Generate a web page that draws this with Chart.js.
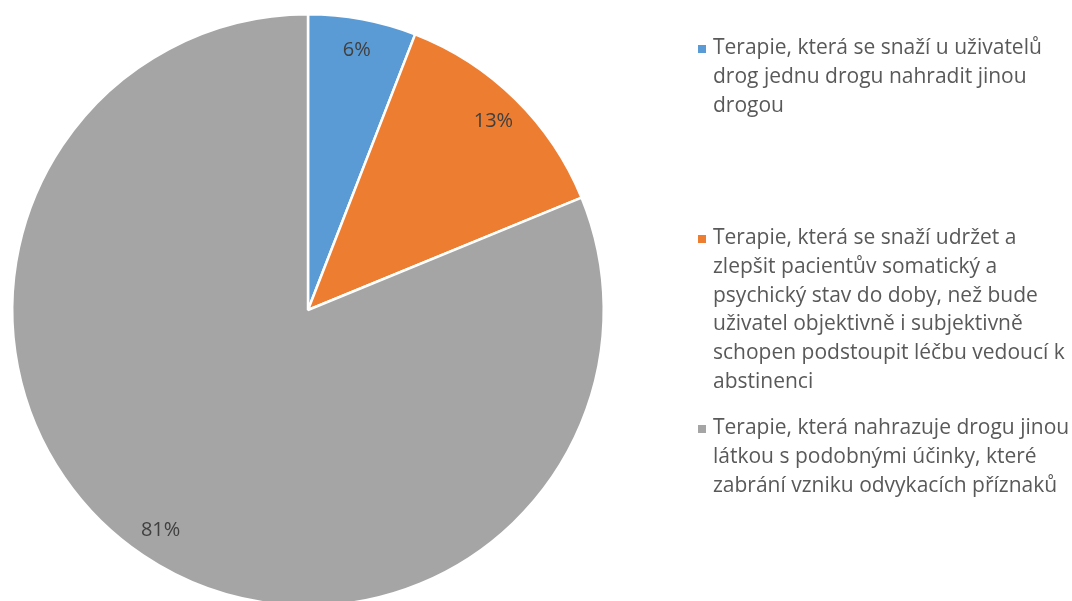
<!DOCTYPE html>
<html><head><meta charset="utf-8">
<script src="https://cdn.jsdelivr.net/npm/chart.js@4/dist/chart.umd.min.js"></script>
<style>
html,body{margin:0;padding:0;background:#fff;overflow:hidden;width:1072px;height:601px;}
#wrap{position:relative;width:1072px;height:618px;}
</style></head>
<body><div id="wrap"><canvas id="c" width="1072" height="618"></canvas></div>
<script>
const categories = [
  ["Terapie, která se snaží u uživatelů", "drog jednu drogu nahradit jinou", "drogou"],
  ["Terapie, která se snaží udržet a", "zlepšit pacientův somatický a", "psychický stav do doby, než bude", "uživatel objektivně i subjektivně", "schopen podstoupit léčbu vedoucí k", "abstinenci"],
  ["Terapie, která nahrazuje drogu jinou", "látkou s podobnými účinky, které", "zabrání vzniku odvykacích příznaků"]
];
const values = [5.9, 12.9, 81.2];
const colors = ["#5B9BD5", "#ED7D31", "#A5A5A5"];

const FONT = "'Open Sans', sans-serif";

const labelsPlugin = {
  id: 'pieLabels',
  afterDatasetsDraw(chart) {
    const ctx = chart.ctx;
    const meta = chart.getDatasetMeta(0);
    const total = values.reduce((a,b)=>a+b,0);
    ctx.save();
    ctx.font = "20px " + FONT;
    ctx.fillStyle = "#404040";
    ctx.textAlign = "center";
    ctx.textBaseline = "middle";
    meta.data.forEach((arc, i) => {
      const p = arc.getProps(['x','y','startAngle','endAngle','outerRadius'], true);
      const mid = (p.startAngle + p.endAngle) / 2;
      const r = p.outerRadius * 0.895;
      ctx.fillText(Math.round(values[i] / total * 100) + "%", p.x + Math.cos(mid) * r, p.y + Math.sin(mid) * r);
    });
    ctx.restore();
  }
};

const legendPlugin = {
  id: 'sideLegend',
  afterDraw(chart) {
    const ctx = chart.ctx;
    ctx.save();
    ctx.font = "21px " + FONT;
    ctx.textBaseline = "middle";
    const starts = [49, 239, 429];
    const lh = 28.8;
    categories.forEach((lines, i) => {
      ctx.fillStyle = colors[i];
      ctx.fillRect(698, starts[i] - 4, 8, 8);
      ctx.fillStyle = "#595959";
      lines.forEach((t, j) => ctx.fillText(t, 713, starts[i] - 1 + j * lh));
    });
    ctx.restore();
  }
};

new Chart(document.getElementById('c'), {
  type: 'pie',
  data: {
    labels: categories.map(l => l.join(' ')),
    datasets: [{
      data: values,
      backgroundColor: colors,
      borderColor: '#ffffff',
      borderWidth: 2.5
    }]
  },
  options: {
    responsive: false,
    animation: false,
    layout: { padding: { left: 11, top: 13, bottom: 11, right: 467 } },
    plugins: { legend: { display: false }, tooltip: { enabled: false } }
  },
  plugins: [labelsPlugin, legendPlugin]
});
</script></body></html>
